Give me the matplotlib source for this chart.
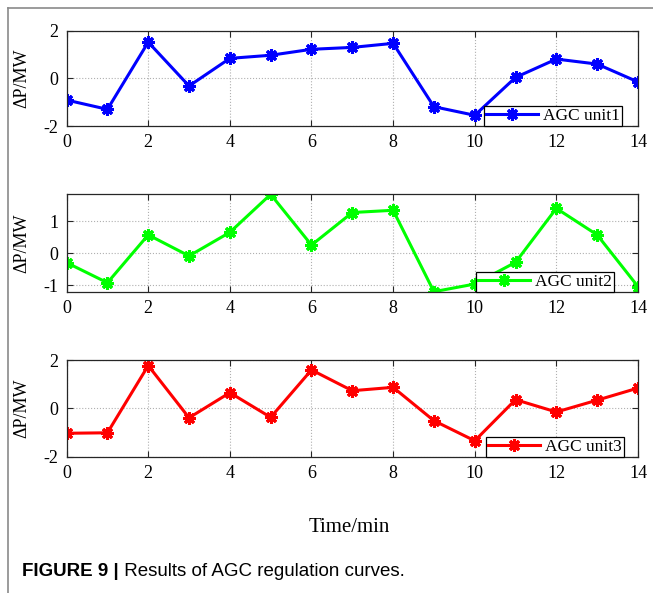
import numpy as np
import matplotlib.pyplot as plt
from matplotlib.lines import Line2D

plt.rcParams['font.family'] = ['Liberation Serif', 'DejaVu Serif']
plt.rcParams['axes.unicode_minus'] = False

# data
time_min = list(range(15))
unit1 = [-0.91, -1.30, 1.52, -0.32, 0.84, 0.97, 1.22, 1.30, 1.47, -1.19, -1.55, 0.04, 0.81, 0.60, -0.15]
unit2 = [-0.29, -0.92, 0.58, -0.08, 0.66, 1.85, 0.26, 1.28, 1.35, -1.20, -0.96, -0.28, 1.41, 0.58, -1.04]
unit3 = [-1.03, -1.01, 1.77, -0.39, 0.65, -0.37, 1.59, 0.73, 0.87, -0.51, -1.34, 0.36, -0.15, 0.34, 0.84]
labels = ["AGC unit1", "AGC unit2", "AGC unit3"]
colors = ["#0000ff", "#00ff00", "#ff0000"]
ylims = [(-2, 2), (-1.2, 1.85), (-2, 2)]
yticks = [[-2, 0, 2], [-1, 0, 1], [-2, 0, 2]]
xticks = list(range(0, 15, 2))


def draw_panel(ax, y, label, color, ylim, yt, leg_right):
    ax.plot(time_min, y, color=color, lw=2.2, marker=(8, 2, 0), ms=9, mew=2.2,
            label=label)
    ax.set_xlim(0, 14)
    ax.set_ylim(*ylim)
    ax.set_xticks(xticks)
    ax.set_yticks(yt)
    ax.grid(True, ls=':', color='#b0b0b0', lw=0.8)
    ax.tick_params(direction='in', top=True, right=True, labelsize=13,
                   length=4, color='#262626', pad=6)
    for s in ax.spines.values():
        s.set_color('#262626')
        s.set_linewidth(0.9)
    ax.set_ylabel("ΔP/MW", fontsize=13)
    ax.yaxis.set_label_coords(-0.064, 0.5)
    leg = ax.legend(loc='lower right', bbox_to_anchor=(leg_right, 0),
                    borderaxespad=0, fancybox=False, framealpha=1,
                    edgecolor='black', fontsize=12.5, handlelength=3.0,
                    handletextpad=0.3, borderpad=0.1)
    leg.get_frame().set_linewidth(0.9)


fig = plt.figure(figsize=(6.53, 5.93), dpi=100)
positions = [[0.102, 0.7875, 0.875, 0.1607],
             [0.102, 0.5081, 0.875, 0.1642],
             [0.102, 0.2298, 0.875, 0.1631]]
leg_rights = [0.9715, 0.9575, 0.9749]
axes = []
for pos, y, lab, c, yl, yt, lr in zip(positions, [unit1, unit2, unit3], labels,
                                     colors, ylims, yticks, leg_rights):
    ax = fig.add_axes(pos)
    draw_panel(ax, y, lab, c, yl, yt, lr)
    axes.append(ax)

fig.text(349 / 653, 1 - 527 / 593, "Time/min", ha='center', va='center', fontsize=15)

# frame lines around the figure panel
fig.add_artist(Line2D([0.0123, 0.0123], [0, 0.987], color='#8a8a8a', lw=1.2))
fig.add_artist(Line2D([0.0123, 1], [0.987, 0.987], color='#8a8a8a', lw=1.2))

# caption
t = fig.text(22 / 653, 1 - 572 / 593, "FIGURE 9 |", fontweight='bold',
             fontsize=13.5, family='Liberation Sans', va='center')
axes[0].annotate(" Results of AGC regulation curves.", xy=(1, 0.5), xycoords=t,
                 va='center', fontsize=13.5, family='Liberation Sans',
                 annotation_clip=False)

fig.savefig("out.png", dpi=100)
